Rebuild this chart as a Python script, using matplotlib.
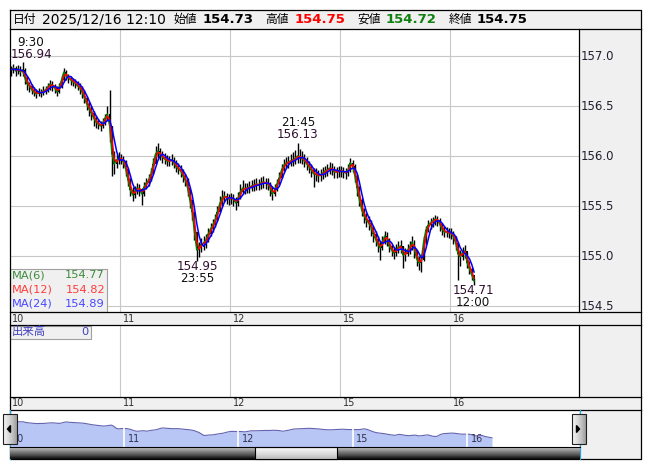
import numpy as np
import pandas as pd
import matplotlib.pyplot as plt
from matplotlib.patches import Rectangle, Polygon

plt.rcParams['font.family'] = ['DejaVu Sans', 'Noto Sans CJK JP']

# 30-minute candles, Dec 10 07:00 -> Dec 16 12:10 (trading hours only)
closes = [
    156.86, 156.88, 156.85, 156.87, 156.84, 156.86, 156.78, 156.72, 156.70, 156.66,
    156.64, 156.62, 156.64, 156.63, 156.65, 156.66, 156.69, 156.72, 156.70, 156.68,
    156.64, 156.69, 156.76, 156.84, 156.80, 156.78, 156.76, 156.74, 156.73, 156.70,
    156.68, 156.64, 156.58, 156.52, 156.47, 156.43, 156.38, 156.34, 156.32, 156.30,
    156.33, 156.38, 156.42, 156.30, 156.02, 155.92, 155.96, 155.98,
    155.97, 155.94, 155.87, 155.76, 155.66, 155.61, 155.65, 155.68, 155.67, 155.62,
    155.69, 155.73, 155.76, 155.82, 155.92, 156.02, 156.05, 156.01, 155.99, 155.97,
    155.95, 155.95, 155.96, 155.93, 155.89, 155.87, 155.85, 155.80, 155.76, 155.68,
    155.56, 155.44, 155.24, 155.06, 155.08, 155.12, 155.13, 155.16, 155.22, 155.27,
    155.31, 155.36, 155.44, 155.52, 155.58, 155.60, 155.58, 155.57,
    155.58, 155.57, 155.53, 155.58, 155.64, 155.68, 155.67, 155.68, 155.69, 155.70,
    155.71, 155.72, 155.71, 155.73, 155.74, 155.73, 155.72, 155.68, 155.62, 155.66,
    155.72, 155.78, 155.86, 155.91, 155.93, 155.94, 155.95, 155.96, 155.98, 156.00,
    155.99, 155.97, 155.95, 155.92, 155.89, 155.86, 155.82, 155.82, 155.80, 155.81,
    155.83, 155.85, 155.86, 155.88, 155.87, 155.84, 155.84, 155.85,
    155.85, 155.84, 155.83, 155.86, 155.93, 155.90, 155.80, 155.68, 155.56, 155.46,
    155.40, 155.36, 155.33, 155.29, 155.22, 155.17, 155.12, 155.08, 155.14, 155.20,
    155.17, 155.10, 155.06, 155.03, 155.06, 155.09, 155.10, 155.01, 155.02, 155.06,
    155.09, 155.14, 155.06, 154.97, 154.93, 154.96, 155.14, 155.26, 155.31, 155.33,
    155.35, 155.37, 155.36, 155.32, 155.27, 155.24, 155.24, 155.23,
    155.23, 155.19, 155.13, 155.02, 154.99, 155.04, 155.05, 154.93, 154.87, 154.81,
    154.75,
]
highs = [
    156.90, 156.92, 156.90, 156.91, 156.90, 156.94, 156.88, 156.80, 156.74, 156.72,
    156.69, 156.67, 156.68, 156.67, 156.70, 156.70, 156.73, 156.76, 156.75, 156.72,
    156.70, 156.73, 156.80, 156.88, 156.86, 156.82, 156.80, 156.78, 156.77, 156.75,
    156.73, 156.70, 156.66, 156.60, 156.54, 156.50, 156.45, 156.40, 156.37, 156.35,
    156.38, 156.42, 156.50, 156.66, 156.30, 156.05, 156.02, 156.04,
    156.02, 156.00, 155.96, 155.88, 155.78, 155.69, 155.70, 155.73, 155.72, 155.68,
    155.74, 155.78, 155.82, 155.88, 155.98, 156.10, 156.13, 156.08, 156.05, 156.03,
    156.01, 156.00, 156.02, 155.99, 155.96, 155.93, 155.91, 155.87, 155.82, 155.78,
    155.66, 155.55, 155.40, 155.22, 155.14, 155.18, 155.20, 155.22, 155.28, 155.33,
    155.37, 155.42, 155.50, 155.60, 155.66, 155.65, 155.63, 155.62,
    155.63, 155.62, 155.59, 155.64, 155.72, 155.76, 155.73, 155.73, 155.75, 155.76,
    155.77, 155.78, 155.77, 155.79, 155.80, 155.78, 155.78, 155.74, 155.70, 155.72,
    155.77, 155.84, 155.92, 155.97, 155.99, 156.00, 156.02, 156.04, 156.06, 156.13,
    156.07, 156.05, 156.02, 155.99, 155.95, 155.92, 155.88, 155.88, 155.86, 155.87,
    155.89, 155.90, 155.92, 155.94, 155.93, 155.90, 155.89, 155.90,
    155.90, 155.89, 155.88, 155.92, 155.98, 155.96, 155.92, 155.82, 155.70, 155.58,
    155.48, 155.43, 155.40, 155.36, 155.30, 155.25, 155.20, 155.15, 155.20, 155.25,
    155.24, 155.18, 155.12, 155.09, 155.12, 155.15, 155.16, 155.10, 155.08, 155.12,
    155.15, 155.20, 155.16, 155.06, 155.00, 155.02, 155.20, 155.30, 155.36, 155.38,
    155.39, 155.41, 155.40, 155.38, 155.33, 155.30, 155.29, 155.28,
    155.28, 155.25, 155.20, 155.14, 155.06, 155.09, 155.11, 155.04, 154.95, 154.89,
    154.78,
]
lows = [
    156.80, 156.83, 156.80, 156.82, 156.80, 156.80, 156.72, 156.66, 156.64, 156.62,
    156.60, 156.58, 156.60, 156.59, 156.61, 156.62, 156.64, 156.66, 156.65, 156.63,
    156.60, 156.63, 156.68, 156.75, 156.76, 156.73, 156.71, 156.70, 156.68, 156.66,
    156.62, 156.58, 156.53, 156.46, 156.40, 156.36, 156.30, 156.28, 156.27, 156.25,
    156.28, 156.31, 156.35, 156.14, 155.80, 155.82, 155.88, 155.92,
    155.92, 155.88, 155.80, 155.70, 155.60, 155.55, 155.58, 155.62, 155.60, 155.51,
    155.60, 155.67, 155.70, 155.75, 155.82, 155.92, 155.98, 155.96, 155.93, 155.92,
    155.90, 155.90, 155.91, 155.88, 155.84, 155.82, 155.79, 155.74, 155.70, 155.60,
    155.48, 155.36, 155.16, 154.95, 154.99, 155.04, 155.06, 155.08, 155.14, 155.20,
    155.24, 155.29, 155.35, 155.44, 155.50, 155.54, 155.52, 155.51,
    155.52, 155.50, 155.46, 155.50, 155.57, 155.62, 155.62, 155.63, 155.63, 155.65,
    155.65, 155.66, 155.66, 155.67, 155.68, 155.67, 155.66, 155.60, 155.56, 155.60,
    155.65, 155.72, 155.78, 155.85, 155.88, 155.88, 155.90, 155.90, 155.92, 155.93,
    155.93, 155.92, 155.89, 155.86, 155.83, 155.79, 155.69, 155.75, 155.74, 155.75,
    155.77, 155.79, 155.80, 155.82, 155.81, 155.78, 155.78, 155.79,
    155.79, 155.78, 155.77, 155.80, 155.84, 155.84, 155.74, 155.60, 155.50, 155.40,
    155.33, 155.29, 155.26, 155.20, 155.14, 155.10, 155.04, 154.96, 155.06, 155.12,
    155.10, 155.04, 155.00, 154.97, 155.00, 155.03, 155.03, 154.88, 154.95, 155.00,
    155.02, 155.06, 154.98, 154.90, 154.86, 154.84, 154.95, 155.12, 155.24, 155.27,
    155.29, 155.31, 155.30, 155.25, 155.21, 155.19, 155.19, 155.18,
    155.17, 155.12, 155.06, 154.76, 154.90, 154.96, 154.98, 154.88, 154.82, 154.76,
    154.71,
]
first_open = 156.84

ma_minutes = [30, 60, 120]          # MA(6), MA(12), MA(24) on 5-minute bars
ma_labels = ['MA(6)', 'MA(12)', 'MA(24)']
ma_values = ['154.77', '154.82', '154.89']
ma_colors = ['#008000', '#ff0000', '#0000ff']
ma_text_colors = ['#3c8c3c', '#ff3c3c', '#4848ff']

day_labels = ['10', '11', '12', '15', '16']
price_ticks = [154.5, 155.0, 155.5, 156.0, 156.5, 157.0]

W, H = 653, 470
def rect(x0, y0, x1, y1):
    return [x0 / W, 1 - y1 / H, (x1 - x0) / W, (y1 - y0) / H]

fig = plt.figure(figsize=(W / 100, H / 100), dpi=100)

bg = fig.add_axes([0, 0, 1, 1], zorder=0)
bg.set_xlim(0, W); bg.set_ylim(H, 0); bg.axis('off')
gray = '#f0f0f0'
for x0, y0, x1, y1 in [(10, 10, 641, 29), (579, 29, 641, 459),
                       (10, 312, 641, 325), (10, 397, 641, 410)]:
    bg.add_patch(Rectangle((x0, y0), x1 - x0, y1 - y0, color=gray, lw=0))

# time axis: trading hours since Dec 10 07:00, 110 px per day in the main view
t = np.arange(len(closes)) * 0.5 + 0.25
c = np.array(closes)
o = np.concatenate([[first_open], c[:-1]])
px_per_h = 110 / 24

main = fig.add_axes(rect(10, 29, 579, 312), zorder=1)
main.set_xlim(0, 569 / px_per_h)
main.set_ylim(157 - (312 - 56) / 100, 157 + (56 - 29) / 100)
main.axis('off')
for d in range(1, 5):
    main.axvline(d * 24, color='#c8c8c8', lw=0.8, zorder=0)
for p in price_ticks:
    main.axhline(p, color='#c8c8c8', lw=0.8, zorder=0)
main.vlines(t, lows, highs, color='black', lw=1.0, zorder=2)
main.bar(t, np.maximum(np.abs(c - o), 0.008), bottom=np.minimum(o, c),
         width=0.4, color='black', lw=0, zorder=2)
s = pd.Series(closes)
for m, col in zip(ma_minutes, ma_colors):
    main.plot(t, s.rolling(m // 30, min_periods=1).mean(), color=col, lw=1.1, zorder=3)

vol = fig.add_axes(rect(10, 325, 579, 397), zorder=1)
vol.set_xlim(0, 569 / px_per_h); vol.set_ylim(0, 1); vol.axis('off')
for d in range(1, 5):
    vol.axvline(d * 24, color='#c8c8c8', lw=0.8)

# navigator: 114.25 px per day
nav_px = 114.25 / 24
nav = fig.add_axes(rect(10, 410, 580, 447), zorder=1)
nav.set_xlim(0, 570 / nav_px); nav.set_ylim(153.55, 158.4); nav.axis('off')
nav.fill_between(t, closes, 153.55, color='#b8c6f6', lw=0)
nav.plot(t, closes, color='#6464b0', lw=0.8)
for d in range(1, 5):
    nav.axvline(d * 24, color='white', lw=1.2)

ov = fig.add_axes([0, 0, 1, 1], zorder=5)
ov.set_xlim(0, W); ov.set_ylim(H, 0); ov.axis('off'); ov.patch.set_alpha(0)
k = dict(color='black', lw=0.9)
ov.plot([10, 641, 641, 10, 10], [10, 10, 459, 459, 10], **k)
for y in [29, 312, 325, 397, 410]:
    ov.plot([10, 641], [y, y], **k)
ov.plot([579, 579], [29, 312], **k)
ov.plot([579, 579], [325, 397], **k)
ov.plot([580, 580], [410, 459], color='#30a0e0', lw=0.9)
ov.plot([10, 10], [410, 459], color='#30a0e0', lw=0.9)

# header
hy = 19.5
fj = 8.5
ov.text(13, hy, '日付', fontsize=fj, va='center')
ov.text(42, hy, '2025/12/16 12:10', fontsize=10, va='center')
ov.text(173, hy, '始値', fontsize=fj, va='center')
ov.text(203, hy, '154.73', fontsize=9.5, weight='bold', va='center')
ov.text(265, hy, '高値', fontsize=fj, va='center')
ov.text(295, hy, '154.75', fontsize=9.5, weight='bold', va='center', color='#ff0000')
ov.text(357, hy, '安値', fontsize=fj, va='center')
ov.text(386, hy, '154.72', fontsize=9.5, weight='bold', va='center', color='#108010')
ov.text(449, hy, '終値', fontsize=fj, va='center')
ov.text(477, hy, '154.75', fontsize=9.5, weight='bold', va='center')

# price axis labels
for p in price_ticks:
    ov.text(581, 56 + (157 - p) * 100, f'{p:.1f}', fontsize=8.5, va='center',
            color='#202030')

# day labels
for i, lab in enumerate(day_labels):
    x = 12 + i * 110 + (1 if i else 0)
    ov.text(x, 318.5, lab, fontsize=7, va='center', color='#303030')
    ov.text(x, 403.5, lab, fontsize=7, va='center', color='#303030')
    ov.text(12 + i * 114.25 + (1.5 if i else 0), 439.5, lab, fontsize=7,
            va='center', color='#303050', zorder=1)

# high / low markers
pc, tc = '#301030', '#101010'
for x, y1, s1, y2, s2, c1, c2 in [
        (31, 42.5, '9:30', 55, '156.94', tc, pc),
        (298, 123, '21:45', 135, '156.13', tc, pc),
        (197, 267, '154.95', 278.5, '23:55', pc, tc),
        (473, 291, '154.71', 302.5, '12:00', pc, tc)]:
    ov.text(x, y1, s1, fontsize=8.6, ha='center', va='center', color=c1)
    ov.text(x, y2, s2, fontsize=8.6, ha='center', va='center', color=c2)

# MA legend
ov.add_patch(Rectangle((10, 268.5), 97, 43.5, facecolor=gray, edgecolor='#a0a0a0', lw=0.8))
for j in range(3):
    y = 275.5 + j * 14.2
    ov.text(12, y, ma_labels[j], fontsize=8.2, va='center', color=ma_text_colors[j])
    ov.text(105, y, ma_values[j], fontsize=8.2, va='center', ha='right',
            color=ma_text_colors[j])

# volume legend
ov.add_patch(Rectangle((10, 325.5), 81, 13, facecolor=gray, edgecolor='#a0a0a0', lw=0.8))
ov.text(12, 332, '出来高', fontsize=8.2, va='center', color='#4040c0')
ov.text(89, 332, '0', fontsize=8.2, va='center', ha='right', color='#4040c0')

# scrollbar
grad = np.linspace(0, 1, 12)[:, None]
ov.imshow(grad, extent=(10, 580, 459, 447), cmap='Greys', vmin=-0.6, vmax=1.1,
          aspect='auto', zorder=2)
ov.imshow(grad, extent=(255, 337, 459, 447), cmap='Greys', vmin=-0.2, vmax=3,
          aspect='auto', zorder=3)
ov.add_patch(Rectangle((255, 447), 82, 12, fill=False, edgecolor='black', lw=0.8, zorder=4))
ov.plot([10, 580], [447, 447], color='black', lw=0.8, zorder=4)
ov.set_xlim(0, W); ov.set_ylim(H, 0)

# navigator buttons
hgrad = np.linspace(0, 1, 10)[None, :]
for x0, tri in [(3, [(7.5, 429), (10.5, 425.5), (10.5, 432.5)]),
                (572, [(579.5, 429), (576.5, 425.5), (576.5, 432.5)])]:
    ov.imshow(hgrad, extent=(x0, x0 + 14, 444, 414), cmap='Greys', vmin=-0.3, vmax=2.5,
              aspect='auto', zorder=6)
    ov.add_patch(Rectangle((x0, 414), 14, 30, fill=False, edgecolor='#202020', lw=0.8, zorder=7))
    ov.add_patch(Polygon(tri, closed=True, color='black', zorder=7))
ov.set_xlim(0, W); ov.set_ylim(H, 0)

fig.savefig('out.png', dpi=100)
